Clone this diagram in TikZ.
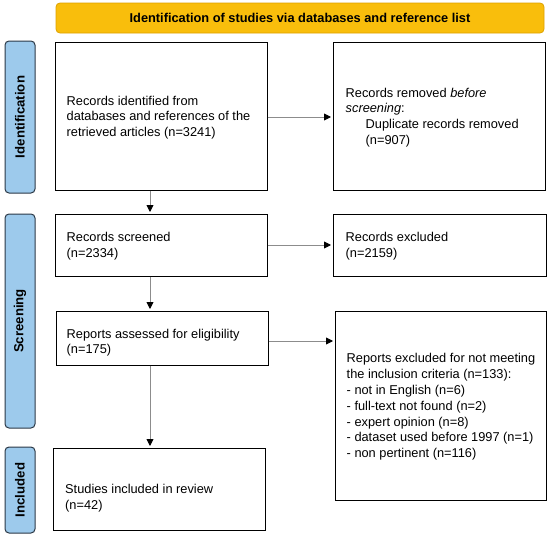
\documentclass[tikz,border=0pt]{standalone}
\usepackage{fontspec}
\setmainfont{Liberation Sans}
\usetikzlibrary{arrows.meta,calc}
\definecolor{bannerfill}{HTML}{F9BE0C}
\definecolor{bannerdraw}{HTML}{DDA100}
\definecolor{sidefill}{HTML}{9DCAEC}
\definecolor{sidedraw}{HTML}{2B3846}
\definecolor{arrgray}{HTML}{8C8C8C}
\tikzset{
  boxnode/.style={draw=black, line width=1pt, rectangle, inner sep=0pt},
  txt/.style={anchor=west, align=left, inner sep=0pt, font=\fontsize{12.8}{15.8}\selectfont},
  sidelabel/.style={draw=sidedraw, fill=sidefill, line width=1pt, rounded corners=4pt, inner sep=0pt},
  sidetext/.style={rotate=90, inner sep=0pt, font=\fontsize{13.2}{15}\selectfont\bfseries},
  arr/.style={draw=arrgray, line width=0.9pt, -{Triangle[length=7pt,width=7pt,color=black,fill=black]}, shorten >=1.5pt}
}
\begin{document}
\begin{tikzpicture}[x=1pt,y=-1pt]
\useasboundingbox (0,0) rectangle (550,538);
% banner
\node[draw=bannerdraw, fill=bannerfill, line width=0.8pt, rounded corners=4pt, minimum width=488pt, minimum height=30pt, inner sep=0pt, font=\fontsize{12.8}{15}\selectfont\bfseries] (banner) at (300,18) {Identification of studies via databases and reference list};
% side labels
\node[sidelabel, minimum width=30pt, minimum height=152pt] (sid) at (20,117) {};
\node[sidetext] (sidt) at (sid.center) {Identification};
\node[sidelabel, minimum width=30pt, minimum height=214pt] (sscr) at (20,321) {};
\node[sidetext] (sscrt) at (sscr.center) {Screening};
\node[sidelabel, minimum width=30pt, minimum height=86pt] (sinc) at (20,490) {};
\node[sidetext] (sinct) at (sinc.center) {Included};
% boxes
\node[boxnode, minimum width=212pt, minimum height=148pt] (b1) at (161,116) {};
\node[txt] (b1t) at (66.5,117.5) {Records identified from\\databases and references of the\\retrieved articles (n=3241)};
\node[boxnode, minimum width=212pt, minimum height=148pt] (b2) at (439,116) {};
\node[txt] (b2t) at (345.5,117.5) {Records removed \textit{before}\\\textit{screening}:\\\hspace*{20pt}Duplicate records removed\\\hspace*{20pt}(n=907)};
\node[boxnode, minimum width=212pt, minimum height=62pt] (scr) at (161,245) {};
\node[txt] (scrt) at (66.5,246) {Records screened\\(n=2334)};
\node[boxnode, minimum width=213pt, minimum height=62pt] (ex1) at (439.5,245) {};
\node[txt] (ex1t) at (345.5,246) {Records excluded\\(n=2159)};
\node[boxnode, minimum width=212pt, minimum height=54pt] (as) at (162,338) {};
\node[txt] (ast) at (66.5,342.7) {Reports assessed for eligibility\\(n=175)};
\node[boxnode, minimum width=211pt, minimum height=189pt] (ex2) at (440.5,405.5) {};
\node[txt] (ex2t) at (346.5,407) {Reports excluded for not meeting\\the inclusion criteria (n=133):\\- not in English (n=6)\\- full-text not found (n=2)\\- expert opinion (n=8)\\- dataset used before 1997 (n=1)\\- non pertinent (n=116)};
\node[boxnode, minimum width=212pt, minimum height=82pt] (st) at (159,489) {};
\node[txt] (stt) at (65,498.5) {Studies included in review\\(n=42)};
% arrows
\coordinate (col) at (150,0);
\draw[arr] ([yshift=-1pt]b1.east) -- ([yshift=-1pt]b1.east -| b2.west);
\draw[arr] (b1.south -| col) -- (scr.north -| col);
\draw[arr] (scr.east) -- (scr.east -| ex1.west);
\draw[arr] (scr.south -| col) -- (as.north -| col);
\draw[arr] ([yshift=-3pt]as.east) -- ([yshift=-3pt]as.east -| ex2.west);
\draw[arr] (as.south -| col) -- (st.north -| col);
\end{tikzpicture}
\end{document}
